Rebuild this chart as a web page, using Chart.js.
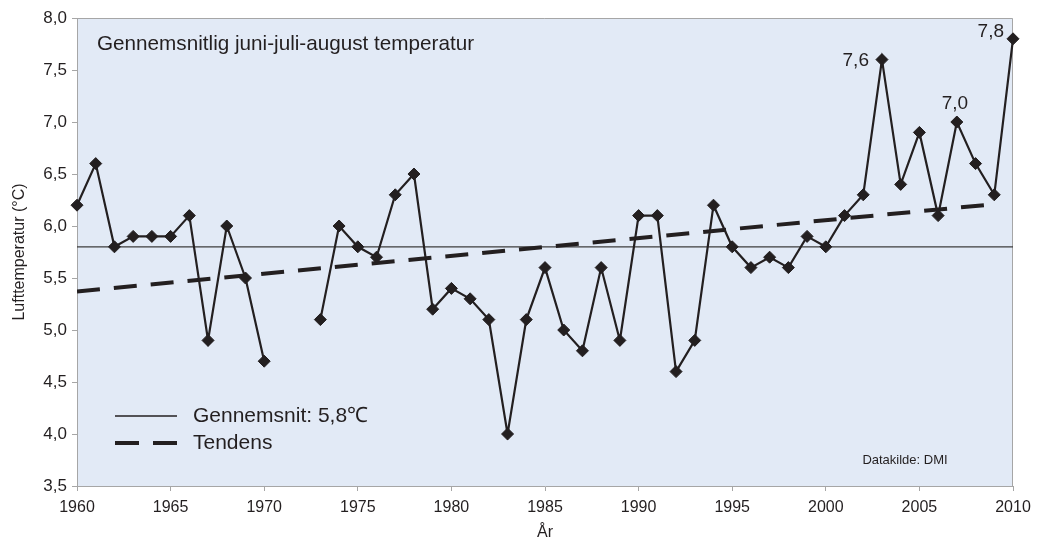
<!DOCTYPE html>
<html>
<head>
<meta charset="utf-8">
<script src="https://cdn.jsdelivr.net/npm/chart.js@4.4.1/dist/chart.umd.min.js"></script>
<style>
  html, body { margin: 0; padding: 0; background: #fff; }
  #wrap { width: 1042px; height: 542px; }
</style>
</head>
<body>
<div id="wrap"><canvas id="chart" width="1042" height="542"></canvas></div>
<script>
// years and June-July-August mean temperature (null = no data)
var years = [1960, 1961, 1962, 1963, 1964, 1965, 1966, 1967, 1968, 1969,
             1970, 1971, 1972, 1973, 1974, 1975, 1976, 1977, 1978, 1979,
             1980, 1981, 1982, 1983, 1984, 1985, 1986, 1987, 1988, 1989,
             1990, 1991, 1992, 1993, 1994, 1995, 1996, 1997, 1998, 1999,
             2000, 2001, 2002, 2003, 2004, 2005, 2006, 2007, 2008, 2009,
             2010];
var temps = [6.2, 6.6, 5.8, 5.9, 5.9, 5.9, 6.1, 4.9, 6.0, 5.5,
             4.7, null, null, 5.1, 6.0, 5.8, 5.7, 6.3, 6.5, 5.2,
             5.4, 5.3, 5.1, 4.0, 5.1, 5.6, 5.0, 4.8, 5.6, 4.9,
             6.1, 6.1, 4.6, 4.9, 6.2, 5.8, 5.6, 5.7, 5.6, 5.9,
             5.8, 6.1, 6.3, 7.6, 6.4, 6.9, 6.1, 7.0, 6.6, 6.3,
             7.8];

var meanYears = [1960, 2010];
var meanValues = [5.8, 5.8];

var trendYears = [1960, 2009];
var trendValues = [5.37, 6.21];

var labelledYears = [2003, 2007, 2010];

var xTicks = [1960, 1965, 1970, 1975, 1980, 1985, 1990, 1995, 2000, 2005, 2010];

var titleText = 'Gennemsnitlig juni-juli-august temperatur';
var meanLabel = 'Gennemsnit: 5,8\u2103';
var trendLabel = 'Tendens';
var sourceText = 'Datakilde: DMI';

var ink = '#231f20';
var axisGray = '#a6a6a6';
var plotBg = '#e2eaf6';
var fontFamily = '"Liberation Sans", Arial, Helvetica, sans-serif';

function fmt(v) {
    return v.toFixed(1).replace('.', ',');
}

function pairs(xs, ys) {
    return xs.map(function (x, i) { return {x: x, y: ys[i]}; });
}

var plotDeco = {
    id: 'plotDeco',
    beforeDraw: function (chart) {
        var a = chart.chartArea;
        var ctx = chart.ctx;
        ctx.save();
        ctx.fillStyle = plotBg;
        ctx.fillRect(a.left, a.top, a.right - a.left, a.bottom - a.top);
        ctx.strokeStyle = axisGray;
        ctx.lineWidth = 1;
        ctx.beginPath();
        ctx.moveTo(a.left, a.top + 0.5);
        ctx.lineTo(a.right - 0.5, a.top + 0.5);
        ctx.lineTo(a.right - 0.5, a.bottom);
        ctx.stroke();
        ctx.restore();
    },
    afterDraw: function (chart) {
        var a = chart.chartArea;
        var ctx = chart.ctx;
        var xs = chart.scales.x, ys = chart.scales.y;
        ctx.save();
        ctx.fillStyle = ink;
        ctx.textBaseline = 'middle';

        // title inside the plot
        ctx.font = '20.7px ' + fontFamily;
        ctx.textAlign = 'left';
        ctx.fillText(titleText, a.left + 20, a.top + 26);

        // legend, bottom left of the plot
        var lx0 = a.left + 38, lx1 = a.left + 100;
        var ly1 = a.bottom - 70, ly2 = a.bottom - 43;
        ctx.strokeStyle = ink;
        ctx.lineWidth = 1.3;
        ctx.beginPath();
        ctx.moveTo(lx0, ly1);
        ctx.lineTo(lx1, ly1);
        ctx.stroke();
        ctx.lineWidth = 4;
        ctx.setLineDash([24, 14]);
        ctx.beginPath();
        ctx.moveTo(lx0, ly2);
        ctx.lineTo(lx1, ly2);
        ctx.stroke();
        ctx.setLineDash([]);
        ctx.font = '21px ' + fontFamily;
        ctx.fillText(meanLabel, a.left + 116, ly1);
        ctx.fillText(trendLabel, a.left + 116, ly2);

        // data source
        ctx.font = '13px ' + fontFamily;
        ctx.textAlign = 'center';
        ctx.fillText(sourceText, a.right - 108, a.bottom - 26);

        // value labels on the highest points
        ctx.font = '19px ' + fontFamily;
        labelledYears.forEach(function (yr) {
            var v = temps[years.indexOf(yr)];
            var px = xs.getPixelForValue(yr);
            var py = ys.getPixelForValue(v);
            if (yr === 2003) {
                ctx.textAlign = 'right';
                ctx.fillText(fmt(v), px - 13, py + 1);
            } else if (yr === 2007) {
                ctx.textAlign = 'center';
                ctx.fillText(fmt(v), px - 2, py - 18);
            } else {
                ctx.textAlign = 'right';
                ctx.fillText(fmt(v), px - 9, py - 7);
            }
        });
        ctx.restore();
    }
};

var ctx = document.getElementById('chart');
var chart = new Chart(ctx, {
    type: 'line',
    data: {
        datasets: [{
            label: 'Temperatur',
            data: pairs(years, temps),
            borderColor: ink,
            backgroundColor: ink,
            borderWidth: 2.2,
            pointStyle: 'rectRot',
            pointRadius: 6,
            pointBorderWidth: 1,
            pointBackgroundColor: ink,
            pointBorderColor: ink,
            spanGaps: false,
            tension: 0,
            clip: false,
            order: 1
        }, {
            label: meanLabel,
            data: pairs(meanYears, meanValues),
            borderColor: '#3d3d3d',
            borderWidth: 1.3,
            pointRadius: 0,
            order: 3
        }, {
            label: trendLabel,
            data: pairs(trendYears, trendValues),
            borderColor: ink,
            borderWidth: 4,
            borderDash: [23, 14],
            pointRadius: 0,
            order: 2
        }]
    },
    options: {
        responsive: false,
        animation: false,
        devicePixelRatio: 1,
        layout: { padding: { top: 18, right: 29, left: 0, bottom: 0 } },
        plugins: {
            legend: { display: false },
            tooltip: { enabled: false }
        },
        scales: {
            x: {
                type: 'linear',
                min: 1960,
                max: 2010,
                afterFit: function (scale) { scale.height = 56; },
                afterBuildTicks: function (scale) {
                    scale.ticks = xTicks.map(function (v) { return {value: v}; });
                },
                grid: { drawOnChartArea: false, tickLength: 5, color: axisGray },
                border: { color: axisGray, width: 1 },
                ticks: {
                    color: ink,
                    padding: 7,
                    maxRotation: 0,
                    font: { family: fontFamily, size: 16 },
                    callback: function (v) { return String(v); }
                },
                title: {
                    display: true,
                    text: 'År',
                    color: ink,
                    padding: { top: 0, bottom: 0 },
                    font: { family: fontFamily, size: 16 }
                }
            },
            y: {
                min: 3.5,
                max: 8.0,
                afterFit: function (scale) { scale.width = 77; },
                grid: { drawOnChartArea: false, tickLength: 5, color: axisGray },
                border: { color: axisGray, width: 1 },
                ticks: {
                    stepSize: 0.5,
                    color: ink,
                    padding: 5,
                    font: { family: fontFamily, size: 17 },
                    callback: function (v) { return fmt(v); }
                },
                title: {
                    display: true,
                    text: 'Lufttemperatur (°C)',
                    color: ink,
                    padding: { top: 10, bottom: 0 },
                    font: { family: fontFamily, size: 16 }
                }
            }
        }
    },
    plugins: [plotDeco]
});
</script>
</body>
</html>
